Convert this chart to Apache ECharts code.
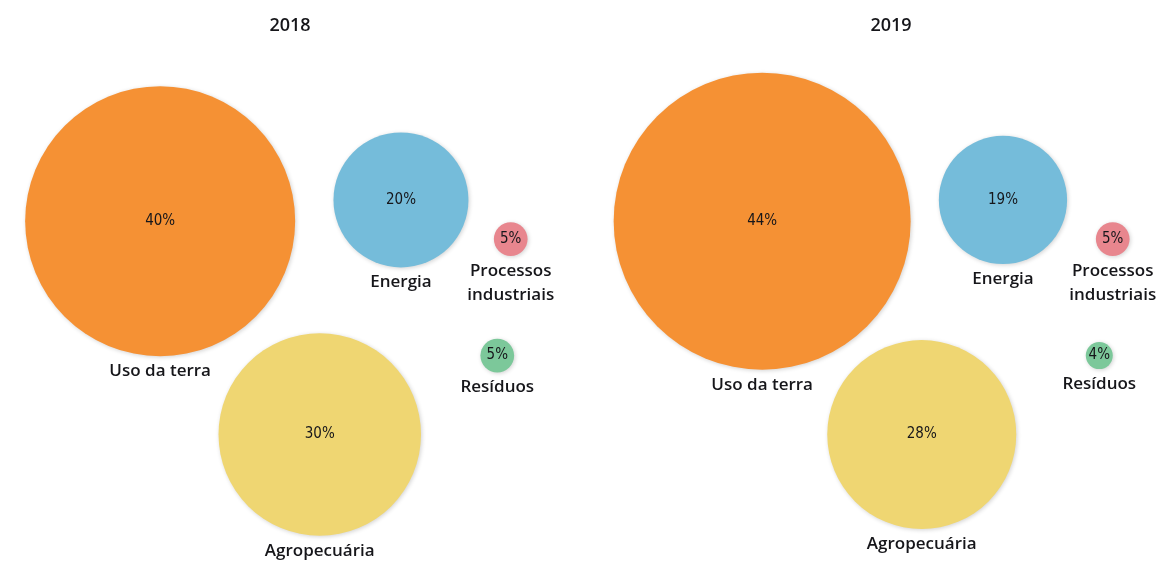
<!DOCTYPE html>
<html lang="pt">
	<head>
		<meta charset="UTF-8" />
		<title>Emissões por setor</title>
		<script src="https://cdn.jsdelivr.net/npm/echarts@6/dist/echarts.min.js"></script>
		<style>
			* {
				margin: 0;
				padding: 0;
			}
			html,
			body {
				height: 100%;
				background: #fff;
			}
		</style>
	</head>
	<body>
		<div id="main" style="width:1162px;height:561px;"></div>

		<script type="text/javascript">
			// dados
			var years = ["2018", "2019"];
			var categories = ["Uso da terra", "Energia", "Processos\nindustriais", "Resíduos", "Agropecuária"];
			var values2018 = [40, 20, 5, 5, 30];
			var values2019 = [44, 19, 5, 4, 28];

			// layout das bolhas (unidades do grid 0-100) e cores
			var layout = [
				[28.6, 60.5],
				[71.6, 64.3],
				[91.2, 57.3],
				[88.8, 36.5],
				[57.1, 22.4]
			];
			var colors = ["#F59134", "#75BCDA", "#E8868E", "#7CC89A", "#EFD672"];
			var sizeScale = 6.75;
			var textColor = "#16161a";
			var nameFont = '"Open Sans", "Noto Sans", sans-serif';

			function buildData(values) {
				return values.map(function(v, i) {
					return {
						name: categories[i],
						value: [layout[i][0], layout[i][1], v],
						itemStyle: { color: colors[i] }
					};
				});
			}

			var allValues = [values2018, values2019];
			var series = [];
			allValues.forEach(function(vals, g) {
				// círculos com percentual
				series.push({
					type: "scatter",
					xAxisIndex: g,
					yAxisIndex: g,
					symbol: "circle",
					symbolSize: function(val) {
						return val[2] * sizeScale;
					},
					data: buildData(vals),
					itemStyle: {
						opacity: 1,
						shadowColor: "rgba(0,0,0,0.18)",
						shadowBlur: 4,
						shadowOffsetX: 1,
						shadowOffsetY: 1
					},
					label: {
						show: true,
						position: "inside",
						formatter: function(p) {
							return p.value[2] + "%";
						},
						color: textColor,
						fontFamily: '"DejaVu Sans Condensed", "Liberation Sans Narrow", sans-serif',
						fontSize: 15
					},
					emphasis: { disabled: true },
					z: 2
				});
				// nomes abaixo dos círculos
				series.push({
					type: "scatter",
					xAxisIndex: g,
					yAxisIndex: g,
					symbol: "circle",
					symbolSize: function(val) {
						return val[2] * sizeScale;
					},
					data: buildData(vals).map(function(d) {
						d.itemStyle = { color: "rgba(0,0,0,0)", opacity: 1 };
						return d;
					}),
					itemStyle: { opacity: 1 },
					label: {
						show: true,
						position: "bottom",
						distance: 3,
						formatter: "{b}",
						color: textColor,
						opacity: 1,
						fontFamily: nameFont,
						fontWeight: 600,
						fontSize: 17,
						lineHeight: 24
					},
					silent: true,
					z: 3
				});
			});

			var option = {
				animation: false,
				title: [
					{
						text: years[0],
						left: 285,
						top: 12,
						textAlign: "center",
						textStyle: { fontFamily: nameFont, fontSize: 18, fontWeight: 600, color: textColor }
					},
					{
						text: years[1],
						left: 886,
						top: 12,
						textAlign: "center",
						textStyle: { fontFamily: nameFont, fontSize: 18, fontWeight: 600, color: textColor }
					}
				],
				grid: [
					{ left: 0, top: 0, width: 560, height: 560 },
					{ left: 602, top: 0, width: 560, height: 560 }
				],
				xAxis: [
					{ type: "value", gridIndex: 0, min: 0, max: 100, show: false },
					{ type: "value", gridIndex: 1, min: 0, max: 100, show: false }
				],
				yAxis: [
					{ type: "value", gridIndex: 0, min: 0, max: 100, show: false },
					{ type: "value", gridIndex: 1, min: 0, max: 100, show: false }
				],
				series: series
			};

			var myChart = echarts.init(document.getElementById("main"));
			myChart.setOption(option);
		</script>
	</body>
</html>
